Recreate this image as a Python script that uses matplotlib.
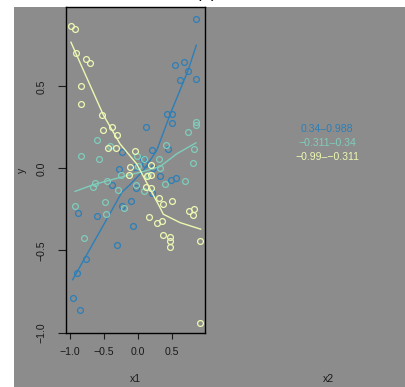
import numpy as np
import matplotlib.pyplot as plt
from matplotlib.patches import Rectangle

plt.rcParams['font.family'] = ['Liberation Sans', 'DejaVu Sans']

# points per x2 group (x1, y)
hi_x = [0.857, 0.549, 0.681, 0.740, 0.626, 0.862, 0.426, 0.504, 0.500, 0.126,
        0.441, -0.226, 0.206, 0.082, 0.107, -0.044, 0.225, -0.275, 0.332, 0.568,
        0.494, -0.382, -0.029, 0.210, -0.103, -0.231, -0.874, -0.594, -0.074,
        -0.300, -0.756, -0.888, -0.951, -0.849]
hi_y = [0.908, 0.629, 0.647, 0.596, 0.541, 0.543, 0.333, 0.333, 0.280, 0.251,
        0.119, 0.098, 0.113, 0.056, 0.028, 0.011, 0.003, -0.003, -0.046, -0.056,
        -0.070, -0.099, -0.122, -0.148, -0.197, -0.228, -0.269, -0.289, -0.350,
        -0.466, -0.552, -0.637, -0.792, -0.865]

mid_x = [0.853, 0.853, 0.740, -0.594, -0.834, -0.574, -0.407, -0.006, 0.097,
         0.318, 0.416, 0.828, 0.813, 0.328, 0.009, -0.246, 0.151, -0.624, -0.653,
         -0.456, -0.290, -0.025, 0.097, 0.406, 0.691, -0.481, -0.922, -0.466,
         -0.197, -0.790]
mid_y = [0.284, 0.266, 0.225, 0.176, 0.074, 0.056, 0.138, 0.074, 0.058, 0.058,
         0.144, 0.119, 0.031, 0.003, 0.013, -0.040, -0.042, -0.091, -0.116,
         -0.075, -0.131, -0.099, -0.140, -0.097, -0.079, -0.207, -0.228, -0.275,
         -0.244, -0.421]

lo_x = [-0.981, -0.926, -0.912, -0.756, -0.701, -0.834, -0.838, -0.529, -0.382,
        -0.510, -0.304, -0.432, -0.319, -0.040, -0.113, -0.124, 0.191, 0.191,
        0.141, 0.126, 0.191, 0.318, 0.376, 0.509, 0.162, 0.759, 0.832, 0.818,
        0.288, 0.362, 0.376, 0.471, 0.475, 0.471, 0.921, 0.912]
lo_y = [0.869, 0.849, 0.704, 0.667, 0.645, 0.500, 0.394, 0.323, 0.251, 0.235,
        0.205, 0.123, 0.123, 0.109, 0.011, -0.040, 0.021, -0.040, -0.046, -0.111,
        -0.119, -0.180, -0.217, -0.201, -0.295, -0.258, -0.250, -0.284, -0.331,
        -0.319, -0.407, -0.415, -0.443, -0.476, -0.440, -0.941]

# smoother curves per group
hi_sx = [-0.956, -0.294, -0.235, -0.113, 0.082, 0.279, 0.426, 0.500, 0.740, 0.862]
hi_sy = [-0.678, -0.191, -0.146, -0.099, -0.013, 0.109, 0.272, 0.353, 0.596, 0.751]
mid_sx = [-0.922, -0.653, -0.162, 0.132, 0.328, 0.574, 0.857]
mid_sy = [-0.140, -0.099, -0.044, -0.013, 0.011, 0.089, 0.156]
lo_sx = [-0.981, -0.506, -0.260, -0.015, 0.156, 0.328, 0.376, 0.622, 0.926]
lo_sy = [0.769, 0.327, 0.150, 0.028, -0.105, -0.238, -0.279, -0.330, -0.370]

labels = ['0.34\u20130.988', '\u22120.311\u20130.34', '\u22120.99\u2013\u22120.311']
colors = ['#2C7FB8', '#7FCDBB', '#EDF8B1']
ticks = [-1.0, -0.5, 0.0, 0.5]

W, H = 405, 387
fig = plt.figure(figsize=(W / 100, H / 100), dpi=100)
fig.patch.set_facecolor('white')
fig.patches.append(Rectangle((14 / W, 0), 1, 1 - 7 / H, transform=fig.transFigure,
                             facecolor='#8C8C8C', edgecolor='none', zorder=-5))

ax = fig.add_axes([66 / W, 1 - 333 / H, (205 - 66) / W, (333 - 7) / H])
ax.set_facecolor('#8C8C8C')

groups = [(hi_x, hi_y, hi_sx, hi_sy), (mid_x, mid_y, mid_sx, mid_sy),
          (lo_x, lo_y, lo_sx, lo_sy)]
for (px, py, sx, sy), c in zip(groups, colors):
    ax.plot(px, py, 'o', mfc='none', mec=c, ms=4.2, mew=0.9)
    ax.plot(sx, sy, '-', color=c, lw=1.0)

ax.set_xlim(-1.054, 0.99)
ax.set_ylim(-1.003, 0.984)
ax.set_xticks(ticks)
ax.set_yticks(ticks)
ax.set_xticklabels(['\u22121.0', '\u22120.5', '0.0', '0.5'])
ax.set_yticklabels(['\u22121.0', '\u22120.5', '0.0', '0.5'], rotation=90, va='center')
ax.tick_params(labelsize=7.6, colors='#1a1a1a', length=4, width=0.8, pad=6)
ax.tick_params(axis='y', length=6, pad=8)
for s in ax.spines.values():
    s.set_color('black')
    s.set_linewidth(1.0)

fig.text(135 / W, 1 - 379 / H, 'x1', ha='center', va='center', fontsize=7.6, color='#1a1a1a')
fig.text(328 / W, 1 - 379 / H, 'x2', ha='center', va='center', fontsize=7.6, color='#1a1a1a')
fig.text(22 / W, 1 - 170 / H, 'y', ha='center', va='center', fontsize=7.6,
         rotation=90, color='#1a1a1a')

for i, (lab, c) in enumerate(zip(labels, colors)):
    fig.text(327 / W, 1 - (129 + 14 * i) / H, lab, ha='center', va='center',
             fontsize=7.6, color=c)

# heading sits above the top edge, only its lower part shows
fig.text(206 / W, 1 + 2 / H, '(a)', ha='center', va='baseline', fontsize=12,
         color='black')

fig.savefig('out.png', dpi=100)
